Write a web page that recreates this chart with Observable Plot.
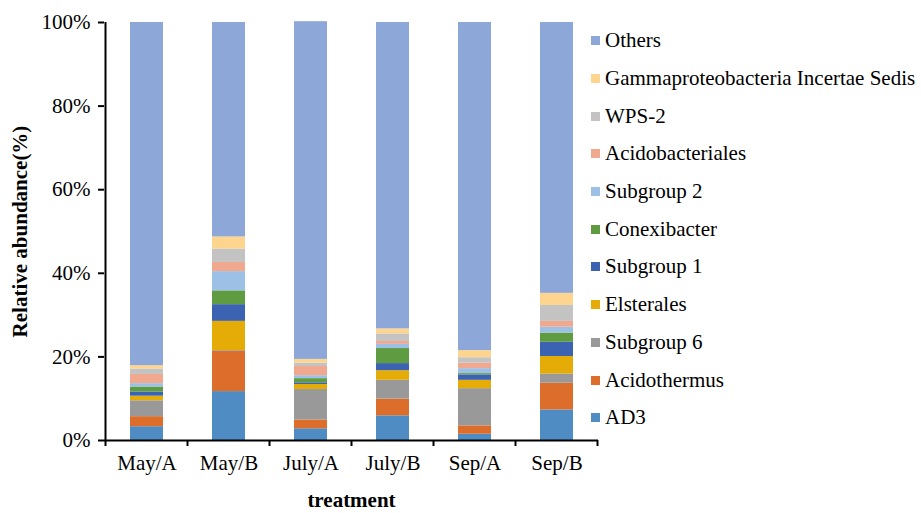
<!DOCTYPE html>
<html><head><meta charset="utf-8">
<script src="https://cdn.jsdelivr.net/npm/d3@7"></script>
<script src="https://cdn.jsdelivr.net/npm/@observablehq/plot@0.6"></script>
<style>
body{margin:0;background:#fff;}
#wrap{position:relative;width:921px;height:513px;font-family:"Liberation Serif","Times New Roman",serif;}
#legend{position:absolute;left:591px;top:22px;}
.row{height:37.7px;display:flex;align-items:center;font-size:21px;color:#000;white-space:nowrap;}
.sw{width:9px;height:9px;margin-right:5px;flex:none;}
</style></head><body><div id="wrap"></div>
<script>
const treatments = ["May/A","May/B","July/A","July/B","Sep/A","Sep/B"];
const taxa = ["AD3","Acidothermus","Subgroup 6","Elsterales","Subgroup 1","Conexibacter","Subgroup 2","Acidobacteriales","WPS-2","Gammaproteobacteria Incertae Sedis","Others"];
const AD3              = [3.3, 11.7, 2.8, 5.9, 1.5, 7.3];
const Acidothermus     = [2.4,  9.6, 2.1, 4.0, 2.0, 6.4];
const Subgroup6        = [3.8,  0.2, 7.3, 4.5, 8.9, 2.2];
const Elsterales       = [1.1,  7.0, 1.2, 2.3, 2.0, 4.2];
const Subgroup1        = [1.0,  4.0, 0.4, 1.7, 1.3, 3.4];
const Conexibacter     = [1.2,  3.3, 1.0, 3.6, 0.3, 2.2];
const Subgroup2        = [0.8,  4.6, 0.7, 1.0, 1.2, 1.4];
const Acidobacteriales = [2.2,  2.2, 2.2, 0.7, 1.3, 1.4];
const WPS2             = [1.3,  3.2, 0.8, 1.8, 1.3, 3.8];
const Gamma            = [0.8,  2.9, 0.9, 1.2, 1.7, 2.9];
const Others           = [82.1, 51.3, 80.8, 73.3, 78.5, 64.8];
const series = [AD3, Acidothermus, Subgroup6, Elsterales, Subgroup1, Conexibacter, Subgroup2, Acidobacteriales, WPS2, Gamma, Others];
const colors = ["#4f8cc4","#dc6d2a","#999999","#e5ab07","#3b63b1","#5f9b41","#9dc0e6","#f0a98f","#c3c3c3","#fdd58e","#8ea7d9"];
const yTicks = [0, 20, 40, 60, 80, 100];
const yTitle = "Relative abundance(%)";
const xTitle = "treatment";

const rows = [];
taxa.forEach((t, i) => treatments.forEach((tr, j) => rows.push({treatment: tr, taxon: t, value: series[i][j]})));

const plot = Plot.plot({
  width: 921, height: 513,
  marginLeft: 104, marginRight: 323, marginTop: 22, marginBottom: 73,
  style: {fontFamily: '"Liberation Serif", "Times New Roman", serif', fontSize: "21px", color: "#000", background: "#fff"},
  x: {domain: treatments, paddingInner: 0.6, paddingOuter: 0.3},
  y: {domain: [0, 100]},
  color: {domain: taxa, range: colors},
  marks: [
    Plot.barY(rows, {x: "treatment", y: "value", fill: "taxon", order: taxa}),
    Plot.ruleY([0], {strokeWidth: 2, stroke: "#000"}),
    Plot.axisY({ticks: yTicks, tickFormat: d => d + "%", tickSize: 6, tickPadding: 8, strokeWidth: 2, label: null, fontSize: 21}),
    Plot.axisX({tickSize: 0, tickPadding: 15, label: null, fontSize: 21}),
    Plot.text([yTitle], {frameAnchor: "left", dx: -84, rotate: -90, textAnchor: "middle", fontWeight: "bold", fontSize: 21}),
    Plot.text([xTitle], {frameAnchor: "bottom", dy: 66, textAnchor: "middle", fontWeight: "bold", fontSize: 21})
  ]
});

// axis line and band-boundary ticks derived from the plot's scales
const xs = plot.scale("x"), ys = plot.scale("y");
const svg = d3.select(plot.tagName === "svg" ? plot : plot.querySelector("svg"));
const yb = ys.apply(0), yt = ys.apply(100);
const step = xs.step, left = xs.apply(treatments[0]) - (step - xs.bandwidth) / 2;
svg.append("line").attr("x1", left).attr("x2", left).attr("y1", yt).attr("y2", yb)
  .attr("stroke", "#000").attr("stroke-width", 2);
d3.range(treatments.length + 1).forEach(k => {
  const x = left + k * step;
  svg.append("line").attr("x1", x).attr("x2", x).attr("y1", yb).attr("y2", yb + 6)
    .attr("stroke", "#000").attr("stroke-width", 2);
});

const wrap = document.getElementById("wrap");
wrap.appendChild(plot);
const legend = document.createElement("div");
legend.id = "legend";
taxa.slice().reverse().forEach(t => {
  const row = document.createElement("div");
  row.className = "row";
  const sw = document.createElement("span");
  sw.className = "sw";
  sw.style.background = colors[taxa.indexOf(t)];
  const lab = document.createElement("span");
  lab.textContent = t;
  row.appendChild(sw); row.appendChild(lab);
  legend.appendChild(row);
});
wrap.appendChild(legend);
</script></body></html>
